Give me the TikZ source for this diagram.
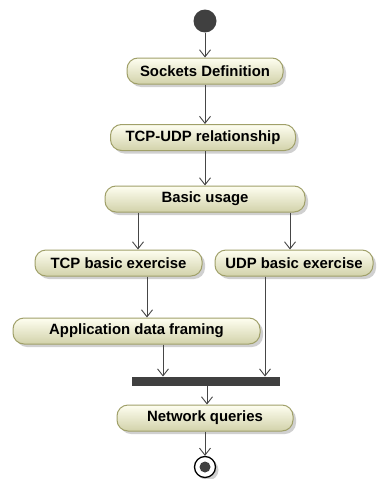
\documentclass[tikz,border=0pt]{standalone}
\usepackage{fontspec}
\setmainfont{Liberation Sans}
\usetikzlibrary{arrows.meta,shadows}
\definecolor{actborder}{RGB}{160,160,105}
\definecolor{acttop}{RGB}{254,254,240}
\definecolor{actbot}{RGB}{210,210,170}
\definecolor{flowline}{RGB}{70,70,70}
\definecolor{solid}{RGB}{64,64,64}
\tikzset{
  activity/.style={draw=actborder, line width=1pt, rounded corners=11pt,
    top color=acttop, bottom color=actbot,
    drop shadow={shadow xshift=3pt, shadow yshift=-3pt, fill=black!30, opacity=.6},
    minimum height=26pt, inner sep=0pt,
    font=\fontsize{14.9}{16}\selectfont\bfseries},
  flow/.style={draw=flowline, line width=0.9pt,
    -{Straight Barb[length=7pt,width=11pt,line width=0.9pt]}},
  syncbar/.style={fill=solid, draw=none, minimum width=148pt, minimum height=9.5pt, inner sep=0pt},
}
\begin{document}
\begin{tikzpicture}[x=1pt,y=-1pt]
\useasboundingbox (0,0) rectangle (376,479);
\fill[white] (0,0) rectangle (376,479);

% initial node
\node[circle, fill=solid, minimum size=23pt, inner sep=0pt] (start) at (205,21) {};

% actions
\node[activity, minimum width=156pt] (sock) at (205,71) {Sockets Definition};
\node[activity, minimum width=185pt] (rel)  at (203,137.5) {TCP-UDP relationship};
\node[activity, minimum width=200pt] (basic) at (205,199) {Basic usage};
\node[activity, minimum width=167pt] (tcp) at (118.5,263) {TCP basic exercise};
\node[activity, minimum width=158pt] (udp) at (294,263) {UDP basic exercise};
\node[activity, minimum width=247pt] (app) at (136.5,331) {Application data framing};
\node[syncbar] (join) at (206,381.5) {};
\node[activity, minimum width=176pt] (net) at (205,418) {Network queries};

% final node
\node[circle, draw=black, line width=1.3pt, fill=white, minimum size=21pt, inner sep=0pt,
  drop shadow={shadow xshift=3pt, shadow yshift=-3pt, fill=black!30, opacity=.6}] (stop) at (205,467) {};
\node[circle, fill=solid, minimum size=11pt, inner sep=0pt] (stopdot) at (stop.center) {};

% x positions of the branch lines
\coordinate (xa) at (138,0);
\coordinate (xb) at (290,0);
\coordinate (xc) at (147,0);
\coordinate (xd) at (163,0);
\coordinate (xe) at (265,0);
\coordinate (xf) at (207,0);

% control flow
\draw[flow] (start) -- (sock);
\draw[flow] (sock) -- (sock.south |- rel.north);
\draw[flow] (sock.south |- rel.south) -- (sock.south |- basic.north);
\draw[flow] (basic.south -| xa) -- (tcp.north -| xa);
\draw[flow] (basic.south -| xb) -- (udp.north -| xb);
\draw[flow] (tcp.south -| xc) -- (app.north -| xc);
\draw[flow] (app.south -| xd) -- (join.north -| xd);
\draw[flow] (udp.south -| xe) -- (join.north -| xe);
\draw[flow] (join.south -| xf) -- (net.north -| xf);
\draw[flow] (net) -- (stop);
\end{tikzpicture}
\end{document}
